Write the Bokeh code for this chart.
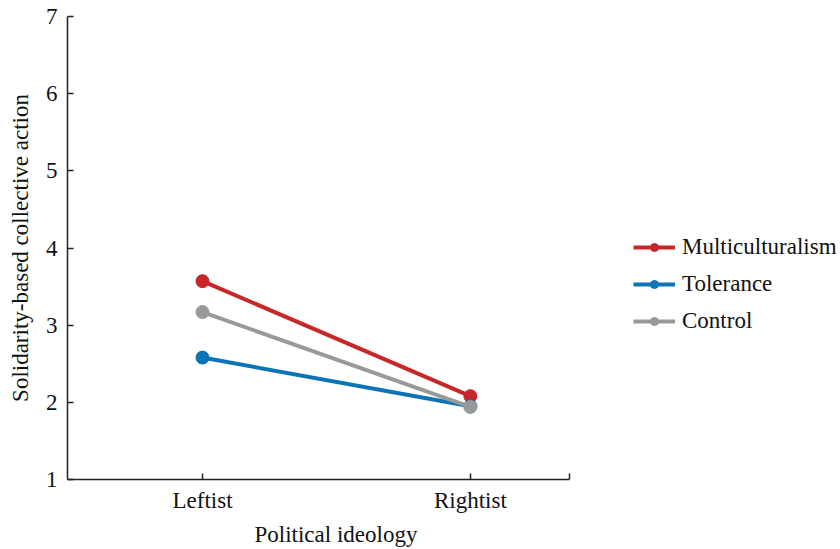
from bokeh.plotting import figure
from bokeh.models import Legend, LegendItem, Title, FixedTicker, Range1d
from bokeh.embed import file_html
from bokeh.resources import INLINE

categories = ["Leftist", "Rightist"]
multiculturalism = [3.57, 2.08]
tolerance = [2.58, 1.95]
control = [3.17, 1.94]
series_names = ["Multiculturalism", "Tolerance", "Control"]
series_colors = ["#c8272a", "#0a74b5", "#979b98"]
y_ticks = [1, 2, 3, 4, 5, 6, 7]

FONT = "Liberation Serif"
FS = "23px"
xs = [1, 2]

p = figure(frame_width=502, frame_height=463, output_backend="svg", toolbar_location=None,
           x_range=Range1d(0.496, 2.37), y_range=Range1d(1, 7),
           min_border_left=67, min_border_right=0, min_border_top=16, min_border_bottom=0)
p.outline_line_color = None
p.xgrid.visible = False
p.ygrid.visible = False

items = []
for name, vals, col in zip(series_names, [multiculturalism, tolerance, control], series_colors):
    p.line(xs, vals, line_color=col, line_width=4)
    p.scatter(xs, vals, size=13, fill_color=col, line_color=col)
    # off-range copies used only as legend glyphs (smaller marker)
    l1 = p.line([0, 0], [-10, -10], line_color=col, line_width=4)
    l2 = p.scatter([0], [-10], size=11, fill_color=col, line_color=col)
    items.append(LegendItem(label=name, renderers=[l1, l2]))

for ax in (p.xaxis[0], p.yaxis[0]):
    ax.axis_line_width = 1.5
    ax.axis_line_color = "#222222"
    ax.major_tick_line_color = "#222222"
    ax.major_tick_line_width = 1.5
    ax.major_tick_in = 6
    ax.major_tick_out = 0
    ax.minor_tick_line_color = None
    ax.major_label_text_font = FONT
    ax.major_label_text_font_size = FS
    ax.major_label_text_color = "#111111"
    ax.axis_label_text_font = FONT
    ax.axis_label_text_font_size = FS
    ax.axis_label_text_font_style = "normal"
    ax.axis_label_text_color = "#111111"

p.xaxis[0].ticker = FixedTicker(ticks=xs + [2.37])
p.xaxis[0].major_label_overrides = {1: categories[0], 2: categories[1], 2.37: ""}
p.xaxis[0].major_label_standoff = 8
p.xaxis[0].axis_label = None

p.yaxis[0].ticker = FixedTicker(ticks=y_ticks)
p.yaxis[0].major_label_standoff = 10
p.yaxis[0].axis_label = "Solidarity-based collective action"
p.yaxis[0].axis_label_standoff = 10

xt = Title(text="Political ideology", align="left", offset=187, standoff=8,
           text_font=FONT, text_font_size=FS, text_font_style="normal",
           text_color="#111111")
p.add_layout(xt, "below")

legend = Legend(items=items, location=(64, 145), orientation="vertical",
                label_text_font=FONT, label_text_font_size=FS, label_text_color="#111111",
                glyph_width=42, glyph_height=20, label_height=20, spacing=11,
                padding=0, margin=0, border_line_color=None, background_fill_alpha=0,
                label_standoff=7)
p.add_layout(legend, "right")

open("out.html", "w").write(file_html(p, INLINE))
